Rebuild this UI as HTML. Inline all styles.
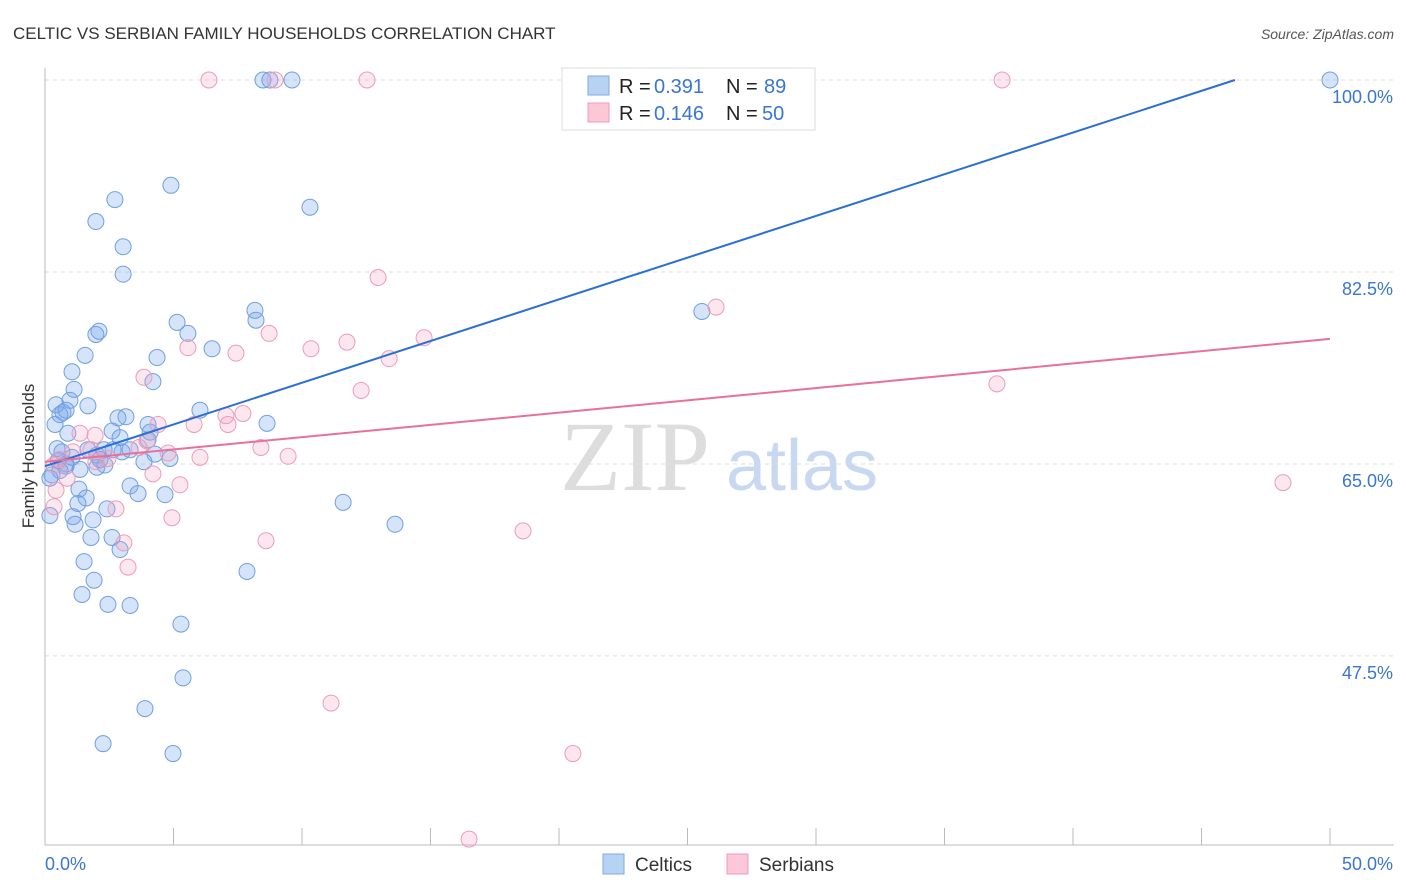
<!DOCTYPE html>
<html><head><meta charset="utf-8"><style>
body{margin:0;background:#fff;font-family:"Liberation Sans",sans-serif;}
svg{display:block}
</style></head><body>
<svg id="c" width="1406" height="892" xmlns="http://www.w3.org/2000/svg">
<text x="13" y="39" font-size="17" fill="#333">CELTIC VS SERBIAN FAMILY HOUSEHOLDS CORRELATION CHART</text>
<text x="1394" y="39" font-size="14" fill="#555" font-style="italic" text-anchor="end">Source: ZipAtlas.com</text>
<g><text x="635" y="490" font-size="100" font-family="Liberation Serif,serif" fill="#ddd" text-anchor="middle">ZIP</text><text x="802" y="490" font-size="72" fill="#c8d8f0" text-anchor="middle">atlas</text></g>
<g id="grid"></g><g id="axes"></g><g id="pts"></g><g id="trend"></g>
<text transform="translate(34,456) rotate(-90)" font-size="17" fill="#333" text-anchor="middle">Family Households</text>
<g>
<rect x="562" y="68" width="253" height="62" fill="#fff" stroke="#ddd"/>
<rect x="588" y="76" width="21" height="19" fill="#b8d2f4" stroke="#7fa9e6"/>
<rect x="588" y="103" width="21" height="19" fill="#fcc8d8" stroke="#f09ab8"/>
<text x="619" y="93" font-size="20" fill="#222">R =</text><text x="654" y="93" font-size="20" fill="#3a75d0">0.391</text>
<text x="726" y="93" font-size="20" fill="#222">N =</text><text x="764" y="93" font-size="20" fill="#3a75d0">89</text>
<text x="619" y="120" font-size="20" fill="#222">R =</text><text x="654" y="120" font-size="20" fill="#3a75d0">0.146</text>
<text x="726" y="120" font-size="20" fill="#222">N =</text><text x="762" y="120" font-size="20" fill="#3a75d0">50</text>
</g>
<g>
<rect x="603" y="854" width="21" height="20" fill="#b8d2f4" stroke="#7fa9e6"/><text x="635" y="871" font-size="19" fill="#333">Celtics</text>
<rect x="727" y="854" width="21" height="20" fill="#fcc8d8" stroke="#f09ab8"/><text x="759" y="871" font-size="19" fill="#333">Serbians</text>
</g>
</svg>
<script>
const celticsX=[8.48,8.75,9.61,50,4.90,2.72,10.31,1.98,3.04,3.04,8.17,25.56,8.21,5.14,2.10,1.98,5.56,6.50,1.56,4.36,4.20,1.05,1.13,0.97,0.43,1.67,0.70,0.58,0.82,3.15,2.84,0.39,4.01,8.64,0.89,2.61,2.92,4.01,0.47,0.66,1.67,2.30,2.65,3.00,2.02,4.28,4.86,3.85,0.51,0.82,2.02,1.36,2.33,0.27,0.19,3.31,1.32,3.62,4.67,1.60,1.28,11.60,2.41,1.09,1.87,1.17,13.62,0.19,2.61,1.79,2.92,1.52,7.86,1.91,1.44,2.45,3.31,5.29,5.37,3.89,2.26,4.98,0.82,0.58,1.05,2.14,3.31,4.09,6.03];
const celticsY=[100,100,100,100,90.4,89.1,88.4,87.1,84.8,82.3,79.0,78.9,78.1,77.9,77.1,76.8,76.9,75.5,74.9,74.7,72.5,73.4,71.8,70.8,70.4,70.3,69.7,69.5,69.9,69.3,69.2,68.6,68.6,68.7,67.8,68.0,67.4,67.2,66.4,66.1,66.3,66.3,66.3,66.1,65.8,65.9,65.5,65.2,65.3,65.0,64.7,64.5,64.9,64.0,63.7,63.0,62.7,62.3,62.2,61.9,61.4,61.5,60.9,60.2,59.9,59.5,59.5,60.3,58.3,58.3,57.2,56.1,55.2,54.4,53.1,52.2,52.1,50.4,45.5,42.7,39.5,38.6,64.8,64.4,65.6,65.4,66.3,67.9,69.9];
const serbiansX=[6.38,8.95,12.53,37.24,12.96,26.11,8.72,5.56,7.43,10.35,11.75,14.75,13.39,3.85,12.30,37.04,7.70,7.04,7.12,5.80,4.40,1.36,1.95,3.97,3.66,4.79,8.40,6.03,9.46,1.09,2.45,1.98,0.58,0.35,0.86,5.25,4.20,0.43,48.17,0.35,2.76,4.94,18.60,8.60,3.07,3.23,11.13,20.54,16.50,1.79];
const serbiansY=[100,100,100,100,82.0,79.3,76.9,75.6,75.1,75.5,76.1,76.5,74.6,72.9,71.7,72.3,69.6,69.4,68.6,68.6,68.6,67.8,67.6,67.1,66.5,66.0,66.5,65.6,65.7,66.1,65.5,65.2,65.4,64.9,63.7,63.1,64.1,62.6,63.3,61.1,60.9,60.1,58.9,58.0,57.8,55.6,43.2,38.6,30.8,66.3];
const celticsTrend=[64.8,100,46.3];
const serbiansTrend=[65.2,76.4,50];
const yTicks=[100,82.5,65,47.5];
const yTickLabels=["100.0%","82.5%","65.0%","47.5%"];
const xLabels=["0.0%","50.0%"];
const NS="http://www.w3.org/2000/svg";
const X=v=>45+v/50*1285, Y=v=>80+(100-v)*10.97;
function mk(p,t,a){const e=document.createElementNS(NS,t);for(const k in a)e.setAttribute(k,a[k]);document.getElementById(p).appendChild(e);return e;}
yTicks.forEach((t,i)=>{
 const l=mk('grid','line',{x1:45,x2:1394,y1:Y(t),y2:Y(t),stroke:'#ddd','stroke-dasharray':'4,4'});
 
 
 const tx=mk('axes','text',{x:1393,y:Y(t)+23,'font-size':18,fill:'#3a75d0','text-anchor':'end'});tx.textContent=yTickLabels[i];
 
 
});
mk('axes','line',{x1:45,x2:45,y1:68,y2:845,stroke:'#bbb'});
mk('axes','line',{x1:45,x2:1394,y1:845,y2:845,stroke:'#bbb'});
for(let i=0;i<=10;i++){const t=mk('axes','line',{x1:X(i*5),x2:X(i*5),y1:828,y2:845,stroke:'#bbb'});
 
 }
const a0=mk('axes','text',{x:45,y:870,'font-size':18,fill:'#3a75d0'});a0.textContent=xLabels[0];


const a1=mk('axes','text',{x:1393,y:870,'font-size':18,fill:'#3a75d0','text-anchor':'end'});a1.textContent=xLabels[1];


function pts(xs,ys,f,s,n){xs.forEach((x,i)=>{const c=mk('pts','circle',{cx:X(x),cy:Y(ys[i]),r:8,fill:f,stroke:s,'stroke-width':1});
 
 });}
pts(celticsX,celticsY,'rgba(120,165,235,0.3)','#6f9fe2','celtics-point');
pts(serbiansX,serbiansY,'rgba(245,160,190,0.25)','#eb9cb8','serbians-point');
const t1=mk('trend','line',{x1:X(0),y1:Y(celticsTrend[0]),x2:X(celticsTrend[2]),y2:Y(celticsTrend[1]),stroke:'#2a6fd6','stroke-width':2});


const t2=mk('trend','line',{x1:X(0),y1:Y(serbiansTrend[0]),x2:X(serbiansTrend[2]),y2:Y(serbiansTrend[1]),stroke:'#e8709a','stroke-width':2});


</script>
</body></html>
